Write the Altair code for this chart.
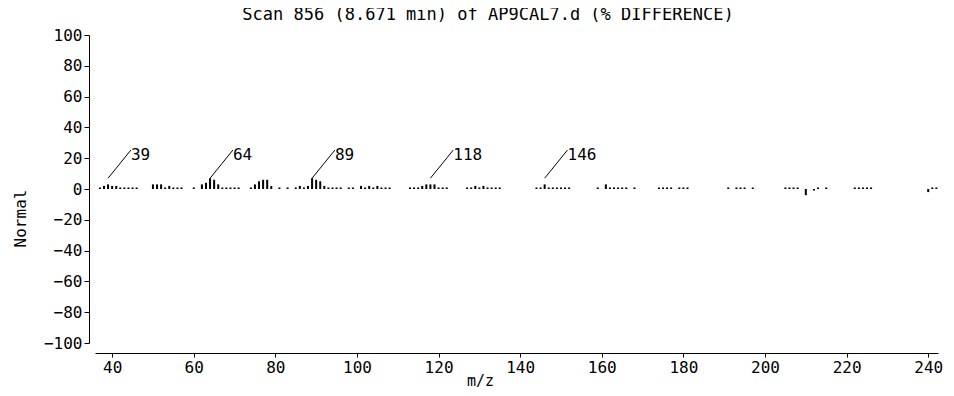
import altair as alt
import pandas as pd

# ---- data ----
mz = [37, 38, 39, 40, 41, 42, 43, 44, 45, 46,
      50, 51, 52, 53, 54, 55, 56, 57, 60, 62,
      63, 64, 65, 66, 67, 68, 69, 70, 71,
      74, 75, 76, 77, 78, 79, 81, 83,
      85, 86, 87, 88, 89, 90, 91, 92, 93, 94, 95, 96, 98, 99,
      101, 102, 103, 104, 105, 106, 107, 108,
      113, 114, 115, 116, 117, 118, 119, 120, 121, 122,
      127, 128, 129, 130, 131, 132, 133, 134, 135,
      144, 145, 146, 147, 148, 149, 150, 151, 152,
      159, 161, 162, 163, 164, 165, 166, 168,
      174, 175, 176, 177, 179, 180, 181,
      191, 193, 194, 195, 197,
      205, 206, 207, 208, 210, 212, 213, 215,
      222, 223, 224, 225, 226,
      240, 241, 242]
pct = [1, 2, 3, 2, 2, 1, 1, 1, 1, 1,
       3, 3, 3, 1, 2, 1, 1, 1, 1, 3,
       4, 7, 6, 3, 1, 1, 1, 1, 1,
       1, 3, 5, 6, 6, 2, 1, 1,
       1, 2, 1, 2, 7, 6, 5, 2, 1, 1, 1, 1, 1, 1,
       2, 1, 2, 1, 2, 1, 1, 1,
       1, 1, 1, 2, 3, 3, 3, 1, 1, 1,
       1, 1, 2, 1, 2, 1, 1, 1, 1,
       1, 1, 3, 1, 1, 1, 1, 1, 1,
       1, 3, 1, 1, 1, 1, 1, 1,
       1, 1, 1, 1, 1, 1, 1,
       1, 1, 1, 1, 1,
       1, 1, 1, 1, -4, -1, 1, 1,
       1, 1, 1, 1, 1,
       -2, 1, 1]

peak_mz = [39, 64, 89, 118, 146]
peak_text = ["39", "64", "89", "118", "146"]

x_ticks = [40, 60, 80, 100, 120, 140, 160, 180, 200, 220, 240]
y_ticks = [-100, -80, -60, -40, -20, 0, 20, 40, 60, 80, 100]

title_text = "Scan 856 (8.671 min) of AP9CAL7.d (% DIFFERENCE)"
x_title = "m/z"
y_title = "Normal"

FONT = "DejaVu Sans Mono"

spec_df = pd.DataFrame({"mz": mz, "pct": pct})
spec_df["zero"] = 0

LEAD_DX = 5.6
LEAD_Y0 = 7
LEAD_Y1 = 25.3
lab_df = pd.DataFrame({"mz": peak_mz, "label": peak_text})
lab_df["x0"] = lab_df["mz"]
lab_df["x1"] = lab_df["mz"] + LEAD_DX
lab_df["y0"] = LEAD_Y0
lab_df["y1"] = LEAD_Y1

title_df = pd.DataFrame({"t": [title_text]})

xscale = alt.Scale(domain=[35.8, 242.4], nice=False, zero=False)
yscale = alt.Scale(domain=[-100, 100], nice=False)

xaxis = alt.Axis(values=x_ticks, offset=10, tickSize=4, labelPadding=2,
                 labelOverlap=False,
                 grid=False, domainColor="black", tickColor="black",
                 labelColor="black", labelFont=FONT, labelFontSize=16,
                 title=x_title, titleFont=FONT, titleFontSize=15,
                 titleFontWeight="normal", titleColor="black",
                 titleX=385, titleY=27, titleAlign="center",
                 titleBaseline="middle")
yaxis = alt.Axis(values=y_ticks, offset=6, tickSize=5, labelPadding=2,
                 labelOverlap=False,
                 grid=False, domainColor="black", tickColor="black",
                 labelColor="black", labelFont=FONT, labelFontSize=16,
                 title=y_title, titleFont=FONT, titleFontSize=16,
                 titleFontWeight="normal", titleColor="black",
                 titleAngle=-90, titleX=-69, titleY=183,
                 titleAlign="center", titleBaseline="middle")

bars = alt.Chart(spec_df).mark_rule(color="black", strokeWidth=2).encode(
    x=alt.X("mz:Q", scale=xscale, axis=xaxis),
    y=alt.Y("zero:Q", scale=yscale, axis=yaxis),
    y2="pct:Q",
)

leaders = alt.Chart(lab_df).mark_rule(color="black", strokeWidth=1).encode(
    x=alt.X("x0:Q", scale=xscale, axis=xaxis),
    x2="x1:Q",
    y=alt.Y("y0:Q", scale=yscale, axis=yaxis),
    y2="y1:Q",
)

labels = alt.Chart(lab_df).mark_text(
    align="left", baseline="top", dx=0, dy=-3, font=FONT, fontSize=16,
    color="black",
).encode(
    x=alt.X("x1:Q", scale=xscale, axis=xaxis),
    y=alt.Y("y1:Q", scale=yscale, axis=yaxis),
    text="label:N",
)

title_mark = alt.Chart(title_df).mark_text(
    align="center", baseline="middle", font=FONT, fontSize=17,
    color="black",
).encode(
    x=alt.value(393),
    y=alt.value(-20),
    text="t:N",
)

chart = alt.layer(bars, leaders, labels, title_mark).properties(
    width=843,
    height=308,
    background="white",
    autosize=alt.AutoSizeParams(type="none"),
    padding={"left": 87, "top": 27, "right": 6, "bottom": 45},
).configure_view(stroke=None).configure_axis(labelOverlap=False)

chart.save("out.html", embed_options={"renderer": "svg", "actions": False})
